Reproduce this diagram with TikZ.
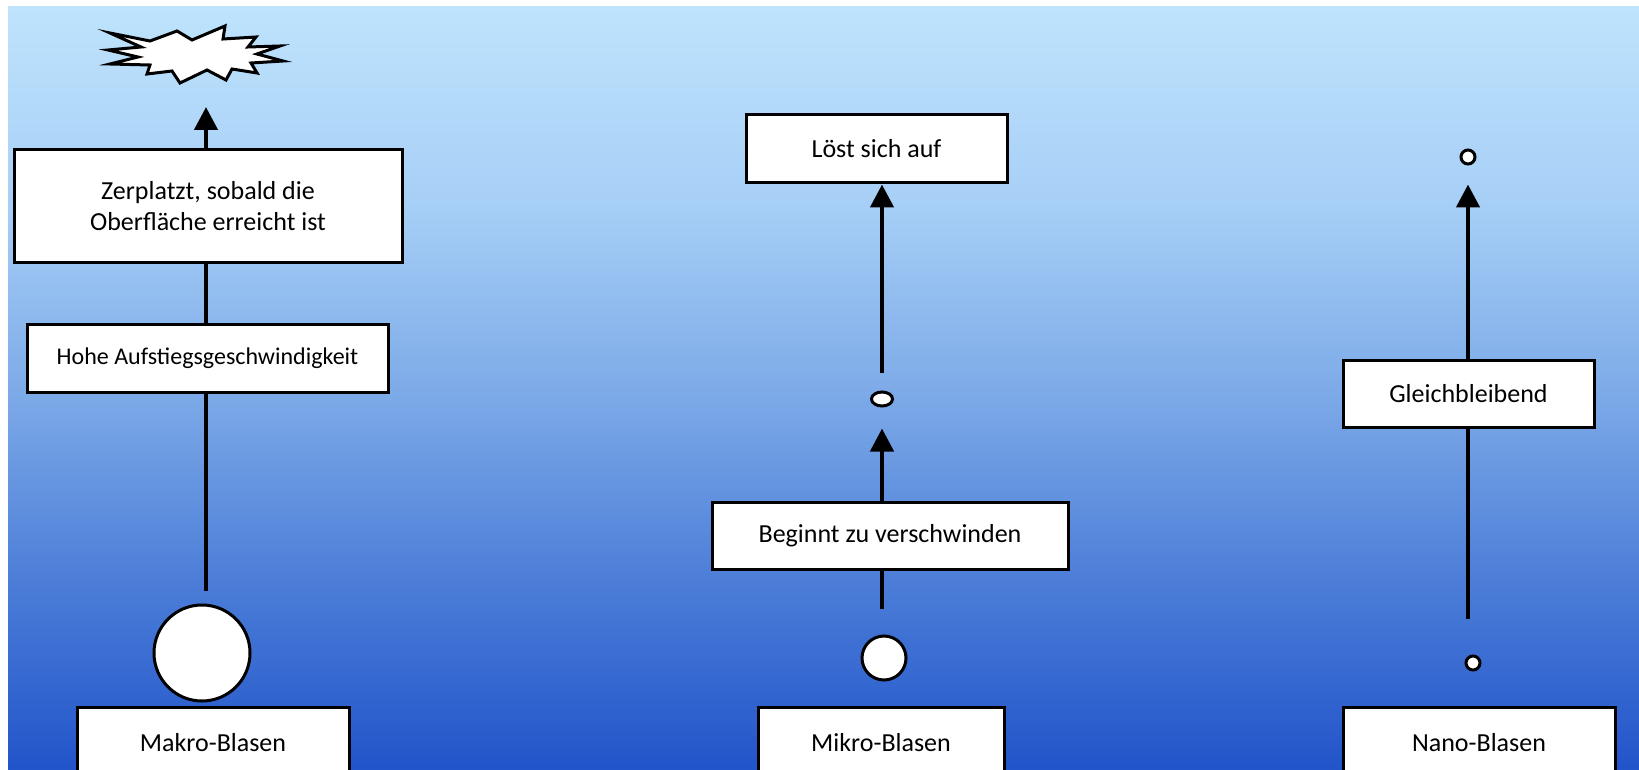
\documentclass[tikz,border=0pt]{standalone}
\usepackage{fontspec}
\setmainfont{Carlito}
\usetikzlibrary{arrows.meta,shapes.geometric}
\definecolor{sky}{RGB}{190,227,252}
\definecolor{paler}{RGB}{168,208,247}
\definecolor{midsea}{RGB}{126,171,232}
\definecolor{lowsea}{RGB}{76,126,216}
\definecolor{deep}{RGB}{34,84,202}
\pgfdeclareverticalshading{sea}{100bp}{color(0bp)=(deep); color(25bp)=(deep); color(37.5bp)=(lowsea); color(50bp)=(midsea); color(62.5bp)=(paler); color(75bp)=(sky); color(100bp)=(sky)}

\begin{document}
\begin{tikzpicture}[x=1pt,y=-1pt,
  box/.style={draw,fill=white,line width=3pt,inner sep=0pt,align=center,font=\fontsize{26}{31}\selectfont},
  bubble/.style={draw,fill=white,circle,line width=3pt,inner sep=0pt},
  flow/.style={line width=4.5pt,-{Triangle[length=23pt,width=23pt]}},
  link/.style={line width=4.5pt}]
\useasboundingbox (0,0) rectangle (1639,770);
\fill[white] (0,0) rectangle (1639,770);
\shade[shading=sea] (8,7) rectangle (1639,770);
\draw[line width=3pt,fill=white,line join=miter] (110,33) -- (150,41) -- (177,31) -- (192,40) -- (225,26) -- (223,39) -- (256,37) -- (248,47) -- (280,46) -- (257,54) -- (283,61) -- (251,63) -- (257,73) -- (232,69) -- (226,80) -- (207,70) -- (180,83) -- (172,71) -- (147,74) -- (150,65) -- (110,64) -- (138,57) -- (108,50) -- (141,47) -- cycle;
%Makro
\node[box,minimum width=388pt,minimum height=113pt] (zer) at (208,206.5) {Zerplatzt, sobald die\\Oberfläche erreicht ist};
\node[box,minimum width=361pt,minimum height=68pt,font=\fontsize{24}{29}\selectfont] (hohe) at (207.5,358) {Hohe Aufstiegsgeschwindigkeit};
\node[bubble,minimum size=96pt] (makrodot) at (202,653) {};
\node[box,minimum width=272pt,minimum height=72pt] (makro) at (213,743) {Makro-Blasen};
%Mikro
\node[box,minimum width=261pt,minimum height=68pt] (los) at (876.5,149) {Löst sich auf};
\node[draw,fill=white,ellipse,line width=3pt,minimum width=21pt,minimum height=14pt,inner sep=0pt] (shrink) at (882,399) {};
\node[box,minimum width=356pt,minimum height=67pt] (beg) at (890,535.5) {Beginnt zu verschwinden};
\node[bubble,minimum size=44pt] (mikrodot) at (884,658) {};
\node[box,minimum width=246pt,minimum height=72pt] (mikro) at (881,743) {Mikro-Blasen};
%Nano
\node[bubble,minimum size=14pt] (nanotop) at (1468,157) {};
\node[box,minimum width=251pt,minimum height=67pt] (gleich) at (1468.5,393.5) {Gleichbleibend};
\node[bubble,minimum size=14pt] (nanodot) at (1473,663) {};
\node[box,minimum width=272pt,minimum height=72pt] (nano) at (1479,743) {Nano-Blasen};
%Arrows
\coordinate (pop) at (206,107);
\draw[flow] (zer.north -| pop) -- (pop);
\draw[link] (hohe.north -| pop) -- (zer.south -| pop);
\draw[link,shorten >=13pt] (hohe.south -| pop) -- (pop |- makrodot.north);
\draw[flow,shorten <=18pt] (shrink.north) -- (shrink |- los.south);
\draw[flow,shorten >=21pt] (shrink |- beg.north) -- (shrink.south);
\draw[link,shorten >=26pt] (shrink |- beg.south) -- (shrink |- mikrodot.north);
\draw[flow,shorten >=19pt] (nanotop |- gleich.north) -- (nanotop.south);
\draw[link,shorten >=36pt] (nanotop |- gleich.south) -- (nanotop |- nanodot.north);
\end{tikzpicture}
\end{document}
